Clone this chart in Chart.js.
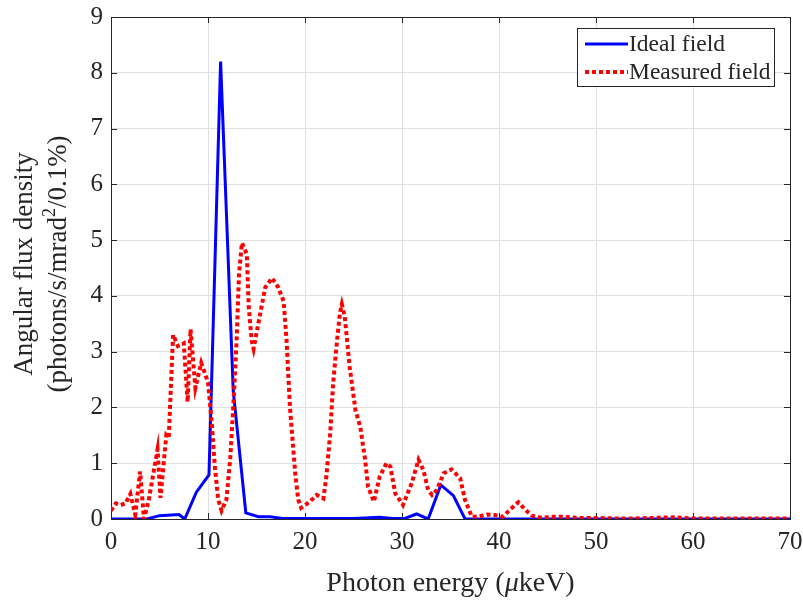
<!DOCTYPE html>
<html>
<head>
<meta charset="utf-8">
<script src="https://cdn.jsdelivr.net/npm/chart.js@4.4.1/dist/chart.umd.min.js"></script>
<style>
  html, body { margin: 0; padding: 0; background: #fff; }
  #wrap { width: 803px; height: 601px; position: relative; }
</style>
</head>
<body>
<div id="wrap"><canvas id="fluxChart"></canvas></div>
<script>
// photon energy (keV) / angular flux density
var idealX = [0, 1.3, 2.5, 3.7, 5.0, 7.0, 7.6, 8.8, 10.1, 11.3, 12.6, 13.9, 15.2, 16.4, 17.7, 20, 22.5, 25, 27.7, 29, 30.3, 31.5, 32.7, 34.0, 35.3, 36.5, 40, 50, 60, 70];
var idealY = [0, 0, 0, 0, 0.06, 0.08, 0, 0.48, 0.79, 8.2, 2.3, 0.11, 0.04, 0.04, 0.01, 0.01, 0.01, 0.01, 0.03, 0.01, 0.01, 0.09, 0, 0.61, 0.42, 0, 0, 0, 0, 0];

var measuredX = [0, 0.5, 1.0, 1.5, 2.0, 2.5, 3.0, 3.4, 3.9, 4.8, 5.1, 5.7, 5.95, 6.4, 6.9, 7.5, 7.9, 8.2, 8.7, 9.3, 10.0, 10.4, 10.7, 11.05, 11.4, 11.9, 12.3, 12.6, 12.95, 13.2, 13.5, 14.0, 14.2, 14.5, 14.7, 15.4, 15.9, 16.6, 17.25, 17.8, 18.1, 18.45, 19.0, 19.3, 19.6, 20.5, 21.2, 21.9, 22.2, 22.6, 22.9, 23.3, 23.6, 23.8, 24.1, 24.6, 25.2, 25.7, 26.2, 26.5, 27.1, 27.7, 28.4, 28.8, 29.3, 30.1, 31.0, 31.7, 32.2, 32.7, 33.1, 33.6, 34.3, 35.1, 36.0, 36.5, 37.2, 38.0, 38.8, 39.6, 40.4, 41.2, 42.0, 42.8, 43.4, 44.4, 45.6, 46.5, 48, 50, 52, 54, 56, 58, 60, 62, 65, 68, 70];
var measuredY = [0.15, 0.28, 0.25, 0.28, 0.45, 0.08, 0.85, 0.0, 0.35, 1.25, 0.38, 1.5, 1.45, 3.3, 3.1, 3.15, 2.1, 3.4, 2.35, 2.8, 2.45, 1.7, 0.95, 0.35, 0.15, 0.35, 1.1, 2.0, 3.2, 4.4, 4.95, 4.75, 3.8, 3.2, 3.05, 3.7, 4.15, 4.32, 4.15, 3.9, 3.2, 2.0, 0.8, 0.35, 0.2, 0.31, 0.43, 0.37, 0.76, 1.54, 2.43, 3.2, 3.69, 3.85, 3.63, 2.73, 1.95, 1.65, 1.06, 0.58, 0.31, 0.76, 1.0, 0.94, 0.46, 0.25, 0.64, 1.06, 0.88, 0.52, 0.43, 0.52, 0.82, 0.89, 0.73, 0.34, 0.04, 0.05, 0.08, 0.07, 0.04, 0.18, 0.3, 0.15, 0.06, 0.02, 0.04, 0.04, 0.02, 0.02, 0.01, 0.01, 0.02, 0.03, 0.01, 0.01, 0.01, 0.01, 0.01];

var xTicks = [0, 10, 20, 30, 40, 50, 60, 70];
var yTicks = [0, 1, 2, 3, 4, 5, 6, 7, 8, 9];
var seriesNames = ['Ideal field', 'Measured field'];

var FONT = '"Liberation Serif", "Times New Roman", serif';
var INK = '#262626';

function toPoints(xs, ys) {
  return xs.map(function(x, i) { return { x: x, y: ys[i] }; });
}

// axes box, inward ticks, legend and axis titles (MATLAB look)
var decor = {
  id: 'decor',
  beforeDatasetsDraw: function(chart) {
    var ctx = chart.ctx, a = chart.chartArea;
    var xs = chart.scales.x, ys = chart.scales.y;
    ctx.save();
    ctx.strokeStyle = INK;
    ctx.lineWidth = 1;
    ctx.beginPath();
    xTicks.forEach(function(v) {
      var px = Math.round(xs.getPixelForValue(v)) + 0.5;
      ctx.moveTo(px, a.bottom); ctx.lineTo(px, a.bottom - 6);
      ctx.moveTo(px, a.top); ctx.lineTo(px, a.top + 6);
    });
    yTicks.forEach(function(v) {
      var py = Math.round(ys.getPixelForValue(v)) + 0.5;
      ctx.moveTo(a.left, py); ctx.lineTo(a.left + 6, py);
      ctx.moveTo(a.right, py); ctx.lineTo(a.right - 6, py);
    });
    ctx.stroke();
    ctx.strokeRect(Math.round(a.left) + 0.5, Math.round(a.top) + 0.5, Math.round(a.right - a.left), Math.round(a.bottom - a.top));
    ctx.restore();
  },
  afterDraw: function(chart) {
    var ctx = chart.ctx, a = chart.chartArea;
    ctx.save();

    // legend
    var lx = 577.5, ly = 28.5, lw = 197, lh = 58;
    ctx.fillStyle = '#fff';
    ctx.fillRect(lx, ly, lw, lh);
    ctx.strokeStyle = INK;
    ctx.lineWidth = 1;
    ctx.strokeRect(lx, ly, lw, lh);
    var rows = [44, 72];
    chart.data.datasets.forEach(function(ds, i) {
      ctx.save();
      ctx.strokeStyle = ds.borderColor;
      ctx.lineWidth = ds.borderWidth;
      ctx.setLineDash(ds.borderDash || []);
      ctx.beginPath();
      ctx.moveTo(585, rows[i]);
      ctx.lineTo(628, rows[i]);
      ctx.stroke();
      ctx.restore();
      ctx.fillStyle = INK;
      ctx.font = '23.5px ' + FONT;
      ctx.textBaseline = 'middle';
      ctx.textAlign = 'left';
      ctx.fillText(ds.label, 629, rows[i] + 1);
    });

    // x title with italic mu
    ctx.fillStyle = INK;
    ctx.textBaseline = 'alphabetic';
    ctx.textAlign = 'left';
    var parts = [['Photon energy (', ''], ['\u03bc', 'italic '], ['keV)', '']];
    var total = 0;
    parts.forEach(function(p) { ctx.font = p[1] + '28px ' + FONT; total += ctx.measureText(p[0]).width; });
    var cx = (a.left + a.right) / 2 - total / 2;
    parts.forEach(function(p) {
      ctx.font = p[1] + '28px ' + FONT;
      ctx.fillText(p[0], cx, 591);
      cx += ctx.measureText(p[0]).width;
    });

    // y title, two lines, rotated
    ctx.save();
    ctx.translate(32, 264);
    ctx.rotate(-Math.PI / 2);
    ctx.font = '27px ' + FONT;
    ctx.textAlign = 'center';
    ctx.fillText('Angular flux density', 0, 0);
    var seg = [['(photons/s/mrad', 27, 0], ['2', 18, -11], ['/0.1%)', 27, 0]];
    var w = 0;
    seg.forEach(function(s) { ctx.font = s[1] + 'px ' + FONT; w += ctx.measureText(s[0]).width; });
    var sx = -w / 2;
    ctx.textAlign = 'left';
    seg.forEach(function(s) {
      ctx.font = s[1] + 'px ' + FONT;
      ctx.fillText(s[0], sx, 34 + s[2]);
      sx += ctx.measureText(s[0]).width;
    });
    ctx.restore();

    ctx.restore();
  }
};

new Chart(document.getElementById('fluxChart'), {
  type: 'line',
  data: {
    datasets: [{
      label: seriesNames[0],
      data: toPoints(idealX, idealY),
      borderColor: '#0000ff',
      borderWidth: 3,
      pointRadius: 0,
      tension: 0,
      order: 1
    }, {
      label: seriesNames[1],
      data: toPoints(measuredX, measuredY),
      borderColor: '#ff0000',
      borderWidth: 4,
      borderDash: [4, 3],
      borderJoinStyle: 'miter',
      borderCapStyle: 'butt',
      pointRadius: 0,
      tension: 0,
      order: 0
    }]
  },
  options: {
    responsive: true,
    maintainAspectRatio: false,
    animation: false,
    layout: { padding: { left: 0, right: 13, top: 17, bottom: 0 } },
    plugins: {
      legend: { display: false },
      tooltip: { enabled: false }
    },
    scales: {
      x: {
        type: 'linear',
        min: 0, max: 70,
        afterFit: function(s) { s.height = 82; s.paddingLeft = 0; s.paddingRight = 0; },
        afterBuildTicks: function(s) { s.ticks = xTicks.map(function(v) { return { value: v }; }); },
        grid: { color: '#e0e0e0', drawTicks: false },
        border: { display: false },
        ticks: { color: INK, padding: 8, font: { family: FONT, size: 25 }, maxRotation: 0 }
      },
      y: {
        type: 'linear',
        min: 0, max: 9,
        afterFit: function(s) { s.width = 111; s.paddingTop = 0; s.paddingBottom = 0; },
        afterBuildTicks: function(s) { s.ticks = yTicks.map(function(v) { return { value: v }; }); },
        grid: { color: '#e0e0e0', drawTicks: false },
        border: { display: false },
        ticks: { color: INK, padding: 8, font: { family: FONT, size: 25 } }
      }
    }
  },
  plugins: [decor]
});
</script>
</body>
</html>
